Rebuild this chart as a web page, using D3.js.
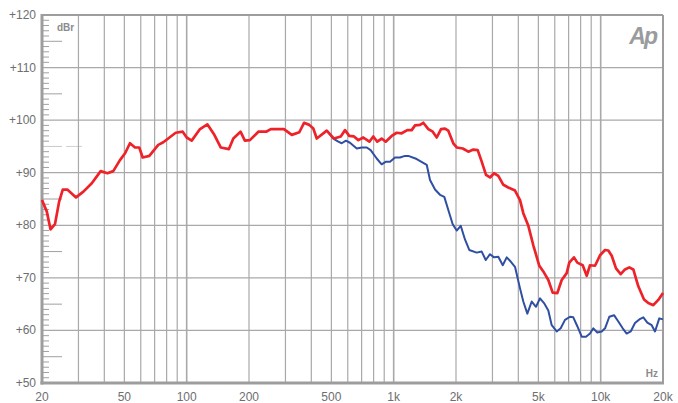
<!DOCTYPE html>
<html><head><meta charset="utf-8">
<script src="https://cdn.jsdelivr.net/npm/d3@7"></script>
<style>body{margin:0;background:#fff}svg{display:block}</style>
</head><body>
<svg id="c" width="678" height="403"></svg>
<script>
const xTickLabels = [20, 50, 100, 200, 500, 1000, 2000, 5000, 10000, 20000];
const xTickText = ["20","50","100","200","500","1k","2k","5k","10k","20k"];
const yTickLabels = [50, 60, 70, 80, 90, 100, 110, 120];
const xGrid = [30,40,50,60,70,80,90,100,200,300,400,500,600,700,800,900,1000,2000,3000,4000,5000,6000,7000,8000,9000,10000];

const redFreq = [20,21.1,22,23.1,24.2,25.2,26.5,29.2,31.7,34.8,38.4,41.4,44.2,47.6,50.4,53.2,56.3,59,61.3,66,72.9,77.1,88.5,95.7,100,105.7,116,125.8,136,146,160,168,182,191,202,222,242,255,295,322,350,369,391,409,425,475,515,555,582,610,643,675,713,763,797,833,875,915,978,1034,1093,1163,1222,1268,1340,1390,1470,1544,1614,1693,1770,1836,1940,2016,2156,2294,2424,2546,2662,2792,2920,3053,3202,3386,3578,3855,4077,4228,4472,4726,5052,5324,5584,5864,6172,6482,6852,7052,7430,7710,8186,8560,8880,9390,9928,10496,10886,11306,11858,12496,13106,13748,14374,15198,16190,16984,17956,18982,20000];
const redDb = [84.8,82.6,79.2,80.2,84.5,86.8,86.8,85.3,86.4,88.0,90.3,89.9,90.3,92.4,93.7,95.6,94.8,94.8,92.9,93.2,95.3,95.8,97.6,97.8,96.7,96.1,98.3,99.2,97.2,94.8,94.5,96.5,97.8,96.1,96.2,97.8,97.8,98.3,98.3,97.2,97.7,99.5,99.1,98.4,96.5,98.0,96.5,96.9,98.1,97.0,96.9,96.2,96.7,95.9,96.9,95.9,96.5,95.9,97.0,97.6,97.5,98.1,98.1,99.0,99.1,99.5,98.3,97.8,96.7,98.3,98.4,98.0,95.6,94.8,94.6,94.0,94.4,94.3,92.1,89.6,89.1,89.9,89.4,87.7,87.2,86.6,84.8,82.3,79.9,76.2,72.3,71.0,69.6,67.2,67.1,69.6,70.9,72.9,73.9,72.9,72.4,70.4,72.4,72.3,74.3,75.3,75.2,74.2,71.8,70.7,71.6,72.0,71.6,68.4,65.9,65.2,64.8,65.8,67.1];

const blueFreq = [475,511,540,561,588,615,663,701,741,774,828,875,918,960,1015,1073,1134,1177,1292,1444,1498,1584,1674,1756,1836,1928,2016,2108,2210,2318,2518,2662,2784,2920,3053,3202,3364,3516,3676,3855,4077,4228,4422,4644,4870,5092,5324,5584,5800,6132,6410,6724,7108,7374,7710,8096,8492,8880,9212,9632,10116,10496,11008,11600,12166,12776,13354,13964,14646,15366,16066,16800,17638,18298,19192,20000];
const blueDb = [98.0,96.5,95.9,95.6,96.1,95.7,94.6,94.8,94.8,94.3,92.7,91.6,92.1,92.1,92.9,92.9,93.2,93.2,92.6,91.5,88.6,86.8,85.8,85.4,82.9,80.2,79.0,79.9,77.3,75.3,74.8,75.0,73.4,74.5,73.9,74.0,72.4,73.9,73.1,72.1,68.0,65.5,63.2,65.5,64.5,66.1,65.2,63.8,61.0,59.8,60.4,62.0,62.6,62.5,60.8,58.8,58.8,59.4,60.4,59.6,59.8,60.4,62.6,62.9,61.7,60.4,59.4,59.8,61.4,62.1,62.5,61.5,61.0,59.8,62.3,62.1];

const L = 42, R = 663, T = 15, B = 383;
const svg = d3.select("#c");
const x = d3.scaleLog().domain([20, 20000]).range([L, R]);
const y = d3.scaleLinear().domain([50, 120]).range([B, T]);
const gridCol = "#a9a9ab", textCol = "#6d6e71";

// minor left ticks
const minorY = d3.range(50, 121, 1).filter(v => v % 10 !== 0);
svg.append("g").selectAll("line").data(minorY).join("line")
  .attr("x1", L).attr("x2", d => d % 5 === 0 ? L + 20 : L + 7)
  .attr("y1", d => y(d)).attr("y2", d => y(d))
  .attr("stroke", d => d === 95 ? "#c8c8ca" : "#a0a0a3").attr("stroke-width", 1);
// dashed extension at +95
svg.append("line").attr("x1", L + 24).attr("x2", L + 40).attr("y1", y(95)).attr("y2", y(95))
  .attr("stroke", "#d0d0d2").attr("stroke-width", 1);

// vertical grid
svg.append("g").selectAll("line").data(xGrid).join("line")
  .attr("x1", d => x(d)).attr("x2", d => x(d)).attr("y1", T).attr("y2", B)
  .attr("stroke", gridCol).attr("stroke-width", d => [100,1000,10000].includes(d) ? 1.6 : 1.2);
// horizontal grid
svg.append("g").selectAll("line").data(yTickLabels.filter(d => d > 50 && d < 120)).join("line")
  .attr("x1", L).attr("x2", R).attr("y1", d => y(d)).attr("y2", d => y(d))
  .attr("stroke", gridCol).attr("stroke-width", 1.3);

// frame
svg.append("line").attr("x1", L).attr("x2", R).attr("y1", T).attr("y2", T).attr("stroke", "#9d9da0").attr("stroke-width", 2);
svg.append("line").attr("x1", R).attr("x2", R).attr("y1", T).attr("y2", B).attr("stroke", "#9d9da0").attr("stroke-width", 2);
svg.append("line").attr("x1", L).attr("x2", L).attr("y1", T - 1).attr("y2", B + 1.5).attr("stroke", "#9d9da0").attr("stroke-width", 3);
svg.append("line").attr("x1", L - 1.5).attr("x2", R + 1).attr("y1", B).attr("y2", B).attr("stroke", "#9d9da0").attr("stroke-width", 3);

// y labels
svg.append("g").selectAll("text").data(yTickLabels).join("text")
  .attr("x", 36).attr("y", d => y(d) + 4).attr("text-anchor", "end")
  .attr("font-family", "Liberation Sans, Arial, sans-serif").attr("font-size", 12)
  .attr("fill", textCol).text(d => "+" + d);
// x labels
svg.append("g").selectAll("text").data(xTickLabels).join("text")
  .attr("x", (d) => x(d)).attr("y", 401).attr("text-anchor", "middle")
  .attr("font-family", "Liberation Sans, Arial, sans-serif").attr("font-size", 12)
  .attr("fill", textCol).text((d, i) => xTickText[i]);

svg.append("text").attr("x", 57).attr("y", 31).attr("font-family", "Liberation Sans, Arial, sans-serif")
  .attr("font-size", 10).attr("font-weight", "bold").attr("fill", "#8a8b8e").text("dBr");
svg.append("text").attr("x", 658).attr("y", 377).attr("text-anchor", "end").attr("font-family", "Liberation Sans, Arial, sans-serif")
  .attr("font-size", 10).attr("font-weight", "bold").attr("fill", "#8a8b8e").text("Hz");
svg.append("text").attr("x", 656).attr("y", 44).attr("text-anchor", "end").attr("font-family", "Liberation Sans, Arial, sans-serif")
  .attr("font-size", 23).attr("font-weight", "bold").attr("font-style", "italic").attr("letter-spacing", -2)
  .attr("fill", "#9a9b9e").text("Ap");

const line = d3.line().x(d => x(d[0])).y(d => y(d[1]));
const blue = blueFreq.map((f, i) => [f, blueDb[i]]);
const red = redFreq.map((f, i) => [f, redDb[i]]);
svg.append("path").datum(blue).attr("d", line).attr("fill", "none")
  .attr("stroke", "#2f4fa2").attr("stroke-width", 2).attr("stroke-linejoin", "round");
svg.append("path").datum(red).attr("d", line).attr("fill", "none")
  .attr("stroke", "#ee2229").attr("stroke-width", 2.7).attr("stroke-linejoin", "round");
</script>
</body></html>
